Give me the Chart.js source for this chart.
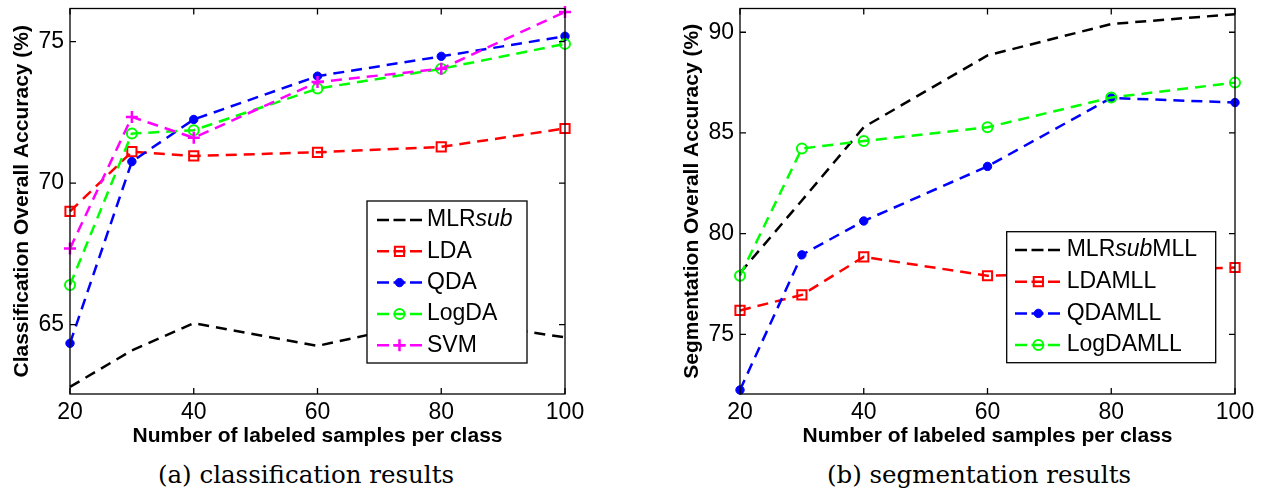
<!DOCTYPE html>
<html>
<head>
<meta charset="utf-8">
<script src="https://cdn.jsdelivr.net/npm/chart.js@4.4.0/dist/chart.umd.min.js"></script>
<style>
  html, body { margin: 0; padding: 0; background: #fff; }
  body { width: 1272px; height: 495px; position: relative; overflow: hidden; }
  .panel { position: absolute; top: 0; height: 450px; }
  #pa { left: 0; width: 620px; }
  #pb { left: 670px; width: 602px; }
  .cap { position: absolute; font-family: "DejaVu Serif", serif; font-size: 24.5px; color: #000;
         white-space: nowrap; transform: translate(-50%, -50%); }
</style>
</head>
<body>
<div class="panel" id="pa"><canvas id="ca"></canvas></div>
<div class="panel" id="pb"><canvas id="cb"></canvas></div>
<div class="cap" style="left:306px; top:474px">(a) classification results</div>
<div class="cap" style="left:979px; top:474px">(b) segmentation results</div>

<script>
// Training-set sizes (labeled samples per class)
const samples = [20, 30, 40, 60, 80, 100];
const xTicks = [20, 40, 60, 80, 100];

// (a) classification overall accuracy, %
const clsNames  = ['MLRsub', 'LDA', 'QDA', 'LogDA', 'SVM'];
const clsMLRsub = [62.80, 64.09, 65.05, 64.25, 65.20, 64.55];
const clsLDA    = [69.00, 71.11, 70.96, 71.09, 71.28, 71.93];
const clsQDA    = [64.34, 70.76, 72.25, 73.78, 74.48, 75.19];
const clsLogDA  = [66.40, 71.75, 71.87, 73.34, 74.04, 74.92];
const clsSVM    = [67.69, 72.34, 71.60, 73.57, 74.04, 76.05];
const clsYTicks = [65, 70, 75];

// (b) segmentation overall accuracy, %
const segNames  = ['MLRsubMLL', 'LDAMLL', 'QDAMLL', 'LogDAMLL'];
const segMLRsub = [78.05, 81.65, 85.29, 88.85, 90.41, 90.90];
const segLDA    = [76.19, 76.96, 78.85, 77.91, 78.10, 78.32];
const segQDA    = [72.24, 78.95, 80.63, 83.34, 86.74, 86.51];
const segLogDA  = [77.91, 84.23, 84.60, 85.28, 86.76, 87.50];
const segYTicks = [75, 80, 85, 90];

// part of a legend label set in italics
const italicPart = 'sub';

// line/marker styles, one per method family
const seriesStyles = [
  { color: '#000000', marker: null,     radius: 0,   bw: 0,   filled: false },
  { color: '#ff0000', marker: 'rect',   radius: 6.5, bw: 2,   filled: false },
  { color: '#0000ff', marker: 'circle', radius: 4.2, bw: 1,   filled: true  },
  { color: '#00ff00', marker: 'circle', radius: 5,   bw: 2,   filled: false },
  { color: '#ff00ff', marker: 'cross',  radius: 6,   bw: 2.5, filled: false }
];

const FONT = "'Liberation Sans', Arial, Helvetica, sans-serif";

function makeDatasets(names, series) {
  return names.map((name, i) => {
    const st = seriesStyles[i];
    return {
      label: name,
      data: samples.map((x, k) => ({ x: x, y: series[i][k] })),
      borderColor: st.color,
      borderWidth: 2.5,
      borderDash: [11, 7],
      tension: 0,
      fill: false,
      clip: false,
      order: -i,
      pointStyle: st.marker || 'circle',
      pointRadius: st.radius,
      pointHoverRadius: st.radius,
      pointBorderWidth: st.bw,
      pointBorderColor: st.color,
      pointBackgroundColor: st.filled ? st.color : 'rgba(0,0,0,0)'
    };
  });
}

function drawMarker(ctx, style, x, y) {
  if (!style.marker) return;
  ctx.save();
  ctx.setLineDash([]);
  ctx.lineWidth = style.bw;
  ctx.strokeStyle = style.color;
  ctx.fillStyle = style.color;
  ctx.beginPath();
  if (style.marker === 'rect') {
    const s = style.radius * Math.SQRT1_2;
    ctx.rect(x - s, y - s, 2 * s, 2 * s);
    ctx.stroke();
  } else if (style.marker === 'circle') {
    ctx.arc(x, y, style.radius, 0, Math.PI * 2);
    if (style.filled) ctx.fill();
    ctx.stroke();
  } else if (style.marker === 'cross') {
    const r = style.radius;
    ctx.moveTo(x - r, y); ctx.lineTo(x + r, y);
    ctx.moveTo(x, y - r); ctx.lineTo(x, y + r);
    ctx.stroke();
  }
  ctx.restore();
}

// framed legend inside the plot area
const boxLegend = {
  id: 'boxLegend',
  afterDatasetsDraw(chart, args, o) {
    const { ctx, chartArea: a } = chart;
    const x0 = a.right - o.right - o.width;
    const y0 = a.bottom - o.bottom - o.height;
    ctx.save();
    ctx.fillStyle = '#fff';
    ctx.fillRect(x0, y0, o.width, o.height);
    ctx.lineWidth = 1.3;
    ctx.strokeStyle = '#000';
    ctx.setLineDash([]);
    ctx.strokeRect(x0, y0, o.width, o.height);
    chart.data.datasets.forEach((ds, i) => {
      const st = seriesStyles[i];
      const y = y0 + o.firstRow + i * o.rowStep;
      ctx.save();
      ctx.strokeStyle = ds.borderColor;
      ctx.lineWidth = ds.borderWidth;
      ctx.setLineDash([12, 4.5]);
      ctx.beginPath();
      ctx.moveTo(x0 + o.lineStart, y);
      ctx.lineTo(x0 + o.lineEnd, y);
      ctx.stroke();
      ctx.restore();
      drawMarker(ctx, st, x0 + (o.lineStart + o.lineEnd) / 2, y);
      // label text, with the italic fragment
      const label = ds.label;
      const k = label.indexOf(italicPart);
      const parts = k < 0 ? [[label, '']] :
        [[label.slice(0, k), ''], [italicPart, 'italic '], [label.slice(k + italicPart.length), '']];
      let tx = x0 + o.textX;
      ctx.fillStyle = '#000';
      ctx.textBaseline = 'middle';
      ctx.textAlign = 'left';
      parts.forEach(([t, f]) => {
        if (!t) return;
        ctx.font = f + o.fontSize + 'px ' + FONT;
        ctx.fillText(t, tx, y);
        tx += ctx.measureText(t).width;
      });
    });
    ctx.restore();
  }
};

// box around the axes with inward tick marks on all four sides
const axesFrame = {
  id: 'axesFrame',
  afterDatasetsDraw(chart) {
    const { ctx, chartArea: a, scales } = chart;
    const len = 6;
    ctx.save();
    ctx.setLineDash([]);
    ctx.strokeStyle = '#000';
    ctx.lineWidth = 1.3;
    ctx.strokeRect(a.left, a.top, a.right - a.left, a.bottom - a.top);
    ctx.beginPath();
    scales.x.ticks.forEach(t => {
      const px = scales.x.getPixelForValue(t.value);
      ctx.moveTo(px, a.bottom); ctx.lineTo(px, a.bottom - len);
      ctx.moveTo(px, a.top); ctx.lineTo(px, a.top + len);
    });
    scales.y.ticks.forEach(t => {
      const py = scales.y.getPixelForValue(t.value);
      ctx.moveTo(a.left, py); ctx.lineTo(a.left + len, py);
      ctx.moveTo(a.right, py); ctx.lineTo(a.right - len, py);
    });
    ctx.stroke();
    ctx.restore();
  }
};

function makeChart(canvasId, names, series, yTicks, yMin, yMax, yTitle, padRight, legendOpts) {
  return new Chart(document.getElementById(canvasId), {
    type: 'line',
    data: { datasets: makeDatasets(names, series) },
    plugins: [boxLegend, axesFrame],
    options: {
      responsive: true,
      maintainAspectRatio: false,
      animation: false,
      events: [],
      layout: { padding: { left: 0, right: padRight, top: 6, bottom: 0 } },
      plugins: {
        legend: { display: false },
        tooltip: { enabled: false },
        boxLegend: legendOpts
      },
      scales: {
        x: {
          type: 'linear',
          min: 20, max: 100,
          afterBuildTicks: s => { s.ticks = xTicks.map(v => ({ value: v })); },
          afterFit: s => { s.height = 56; s.paddingLeft = 0; s.paddingRight = 0; },
          grid: { display: false, drawTicks: false },
          border: { display: false },
          ticks: {
            autoSkip: false, maxRotation: 0, padding: 5,
            color: '#000', font: { family: FONT, size: 23, lineHeight: 1.2 }
          },
          title: {
            display: true, text: 'Number of labeled samples per class', color: '#000',
            font: { family: FONT, size: 21, weight: 'bold', lineHeight: 1.2 },
            padding: { top: 0, bottom: 1.4 }
          }
        },
        y: {
          type: 'linear',
          min: yMin, max: yMax,
          afterBuildTicks: s => { s.ticks = yTicks.map(v => ({ value: v })); },
          afterFit: s => { s.width = 70; s.paddingTop = 0; s.paddingBottom = 0; },
          grid: { display: false, drawTicks: false },
          border: { display: false },
          ticks: {
            autoSkip: false, padding: 6,
            color: '#000', font: { family: FONT, size: 23, lineHeight: 1.2 }
          },
          title: {
            display: true, text: yTitle, color: '#000',
            font: { family: FONT, size: 21, weight: 'bold', lineHeight: 1.2 },
            padding: { top: 9.4, bottom: 0 }
          }
        }
      }
    }
  });
}

makeChart('ca', clsNames, [clsMLRsub, clsLDA, clsQDA, clsLogDA, clsSVM], clsYTicks,
  62.55, 76.17, 'Classification Overall Accuracy (%)', 55,
  { right: 38, bottom: 31, width: 160, height: 162, firstRow: 19, rowStep: 31.3,
    lineStart: 10, lineEnd: 55, textX: 60, fontSize: 23 });

makeChart('cb', segNames, [segMLRsub, segLDA, segQDA, segLogDA], segYTicks,
  72.04, 91.18, 'Segmentation Overall Accuracy (%)', 37,
  { right: 19.3, bottom: 31.3, width: 209, height: 131, firstRow: 18.3, rowStep: 31.7,
    lineStart: 8.3, lineEnd: 55, textX: 60, fontSize: 23 });
</script>
</body>
</html>
